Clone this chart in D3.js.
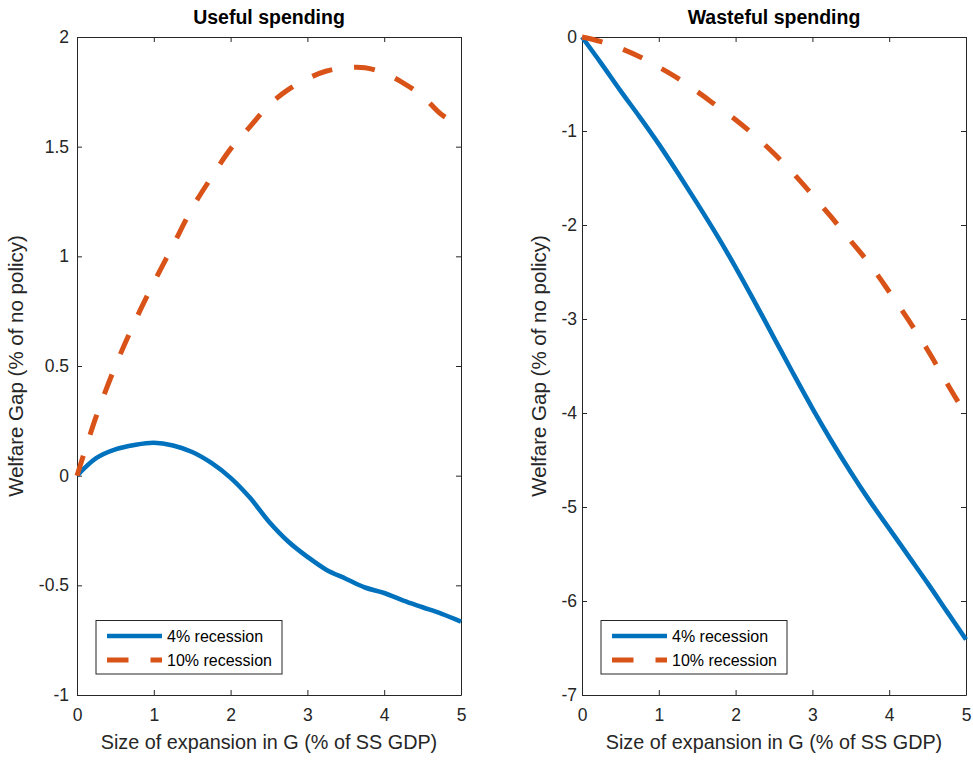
<!DOCTYPE html>
<html>
<head>
<meta charset="utf-8">
<script src="https://cdn.jsdelivr.net/npm/d3@7"></script>
<style>
  body { margin: 0; background: #fff; }
  svg { font-family: "Liberation Sans", Arial, sans-serif; }
  .tick text { fill: #262626; }
</style>
</head>
<body>
<svg width="973" height="760"></svg>
<script>
// x grid (% of SS GDP)
const sizeG = [0, 0.25, 0.5, 0.75, 1, 1.25, 1.5, 1.75, 2, 2.25, 2.5, 2.75, 3, 3.25, 3.5, 3.75, 4, 4.25, 4.5, 4.75, 5];

// Useful spending
const useful4 = [0, 0.08, 0.12, 0.14, 0.15, 0.138, 0.108, 0.058, -0.01, -0.1, -0.21, -0.3, -0.37, -0.43, -0.47, -0.51, -0.535, -0.57, -0.6, -0.63, -0.665];
const useful10 = [0, 0.27, 0.5, 0.7, 0.88, 1.05, 1.22, 1.36, 1.49, 1.59, 1.69, 1.76, 1.81, 1.845, 1.86, 1.86, 1.835, 1.79, 1.73, 1.645, 1.595];

// Wasteful spending
const waste4 = [0, -0.28, -0.57, -0.85, -1.14, -1.45, -1.77, -2.1, -2.45, -2.82, -3.2, -3.58, -3.95, -4.3, -4.63, -4.94, -5.23, -5.52, -5.81, -6.11, -6.41];
const waste10 = [0, -0.05, -0.12, -0.21, -0.32, -0.44, -0.58, -0.73, -0.88, -1.05, -1.24, -1.45, -1.68, -1.92, -2.17, -2.42, -2.71, -3.01, -3.33, -3.68, -4.02];

const xTicks = [0, 1, 2, 3, 4, 5];
const usefulTicks = [2, 1.5, 1, 0.5, 0, -0.5, -1];
const wasteTicks = [0, -1, -2, -3, -4, -5, -6, -7];

const seriesNames = ["4% recession", "10% recession"];
const colors = ["#0072BD", "#D95319"];

const svg = d3.select("svg");
const plotW = 384, plotH = 658, plotTop = 37;
const axisColor = "#262626";

const drawPanel = (left, title, ys, yDomain, yTicks, labelPad, ylabX) => {
  const x = d3.scaleLinear().domain([0, 5]).range([left, left + plotW]);
  const y = d3.scaleLinear().domain(yDomain).range([plotTop + plotH, plotTop]);
  const g = svg.append("g");

  // bottom / top / left / right axes, ticks pointing inward
  const fmt = d => String(d);
  g.append("g").attr("transform", `translate(0,${plotTop + plotH})`)
    .call(d3.axisBottom(x).tickValues(xTicks).tickSizeInner(-5).tickSizeOuter(0).tickPadding(14).tickFormat(fmt));
  g.append("g").attr("transform", `translate(0,${plotTop})`)
    .call(d3.axisTop(x).tickValues(xTicks).tickSizeInner(-5).tickSizeOuter(0).tickFormat(""));
  g.append("g").attr("transform", `translate(${left},0)`)
    .call(d3.axisLeft(y).tickValues(yTicks).tickSizeInner(-5).tickSizeOuter(0).tickPadding(labelPad).tickFormat(fmt));
  g.append("g").attr("transform", `translate(${left + plotW},0)`)
    .call(d3.axisRight(y).tickValues(yTicks).tickSizeInner(-5).tickSizeOuter(0).tickFormat(""));
  g.selectAll(".domain, .tick line").attr("stroke", axisColor);
  g.selectAll(".tick text").attr("font-size", 17.5).attr("font-family", "Liberation Sans, Arial, sans-serif");

  const line = d3.line().x((d, i) => x(sizeG[i])).y(d => y(d)).curve(d3.curveCatmullRom.alpha(0.5));
  g.append("path").datum(ys[0]).attr("d", line)
    .attr("fill", "none").attr("stroke", colors[0]).attr("stroke-width", 4.6);
  g.append("path").datum(ys[1]).attr("d", line)
    .attr("fill", "none").attr("stroke", colors[1]).attr("stroke-width", 5)
    .attr("stroke-dasharray", "21,22");

  // title & labels
  g.append("text").attr("x", left + plotW / 2).attr("y", 24).attr("text-anchor", "middle")
    .attr("font-size", 19.5).attr("font-weight", "bold").attr("fill", "#000").text(title);
  g.append("text").attr("x", left + plotW / 2).attr("y", 749).attr("text-anchor", "middle")
    .attr("font-size", 19.8).attr("fill", axisColor).text("Size of expansion in G (% of SS GDP)");
  g.append("text").attr("transform", `translate(${ylabX},${plotTop + plotH / 2}) rotate(-90)`)
    .attr("text-anchor", "middle").attr("font-size", 20.5).attr("fill", axisColor)
    .text("Welfare Gap (% of no policy)");

  // legend
  const lx = left + 19, ly = 620.5;
  const leg = g.append("g");
  leg.append("rect").attr("x", lx).attr("y", ly).attr("width", 186).attr("height", 53.5)
    .attr("fill", "#fff").attr("stroke", axisColor).attr("stroke-width", 1);
  seriesNames.forEach((name, i) => {
    const yy = ly + 15.5 + i * 24;
    leg.append("line").attr("x1", lx + 11).attr("x2", lx + 66).attr("y1", yy).attr("y2", yy)
      .attr("stroke", colors[i]).attr("stroke-width", i ? 5 : 4.6)
      .attr("stroke-dasharray", i ? "21.5,22" : null);
    leg.append("text").attr("x", lx + 71).attr("y", yy + 6).attr("font-size", 16)
      .attr("fill", "#000").text(name);
  });
};

drawPanel(77, "Useful spending", [useful4, useful10], [-1, 2], usefulTicks, 8, 23);
drawPanel(582, "Wasteful spending", [waste4, waste10], [-7, 0], wasteTicks, 5, 546);
</script>
</body>
</html>
